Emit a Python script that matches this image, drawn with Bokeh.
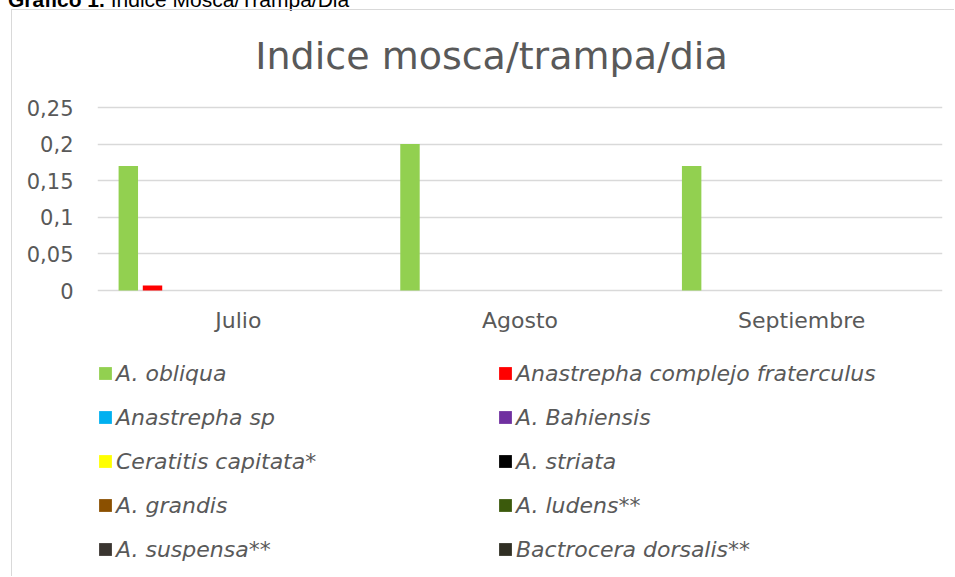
from bokeh.plotting import figure
from bokeh.models import (FactorRange, FixedTicker, Legend, LegendItem, Div, Label)
from bokeh.transform import dodge
from bokeh.layouts import column
from bokeh.embed import file_html
from bokeh.resources import INLINE

# ---------------- data ----------------
months = ["Julio", "Agosto", "Septiembre"]
series_names = ["A. obliqua", "Anastrepha complejo fraterculus", "Anastrepha sp",
                "A. Bahiensis", "Ceratitis capitata*", "A. striata", "A. grandis",
                "A. ludens**", "A. suspensa**", "Bactrocera dorsalis**"]
obliqua = [0.17, 0.20, 0.17]
fraterculus = [0.007, 0.0, 0.0]
anastrepha_sp = [0.0, 0.0, 0.0]
bahiensis = [0.0, 0.0, 0.0]
capitata = [0.0, 0.0, 0.0]
striata = [0.0, 0.0, 0.0]
grandis = [0.0, 0.0, 0.0]
ludens = [0.0, 0.0, 0.0]
suspensa = [0.0, 0.0, 0.0]
dorsalis = [0.0, 0.0, 0.0]
series_values = [obliqua, fraterculus, anastrepha_sp, bahiensis, capitata,
                 striata, grandis, ludens, suspensa, dorsalis]
colors = ["#92D050", "#FF0000", "#00B0F0", "#7030A0", "#FFFF00", "#000000",
          "#8B5000", "#3B5A0C", "#3A3530", "#302F24"]
tick_values = [0, 0.05, 0.1, 0.15, 0.2, 0.25]
tick_labels = ["0", "0,05", "0,1", "0,15", "0,2", "0,25"]
chart_title = "Indice mosca/trampa/dia"
caption_bold = "Gráfico 1."
caption_rest = " Indice Mosca/Trampa/Dia"

TXT = "#595959"
FONT = "DejaVu Sans"

data = {"month": months}
for i, v in enumerate(series_values):
    data[f"s{i}"] = v

# frame covers the whole chart box so that title and legend are not clipped
p = figure(x_range=FactorRange(*months, range_padding=0, factor_padding=0),
           y_range=(-0.3852, 0.3552), width=943, height=567,
           output_backend="svg", toolbar_location=None,
           min_border_left=85, min_border_right=13,
           min_border_top=20, min_border_bottom=5,
           margin=(0, 0, 0, 11),
           styles={"border-left": "1px solid #d9d9d9", "border-top": "1px solid #d9d9d9"})
p.outline_line_color = None
p.background_fill_color = "white"
p.border_fill_color = "white"

renderers = []
for i, name in enumerate(series_names):
    off = -0.3906 + i * 0.0859
    r = p.vbar(x=dodge("month", off, range=p.x_range), top=f"s{i}", width=0.069,
               source=data, fill_color=colors[i], line_color=None)
    renderers.append(r)

# axes
p.yaxis.ticker = FixedTicker(ticks=tick_values)
p.yaxis.major_label_overrides = {v: l for v, l in zip(tick_values, tick_labels)}
p.xaxis.fixed_location = 0
for ax in (p.xaxis[0], p.yaxis[0]):
    ax.axis_line_color = None
    ax.major_tick_line_color = None
    ax.minor_tick_line_color = None
    ax.major_tick_out = 0
    ax.major_tick_in = 0
    ax.major_label_text_color = TXT
    ax.major_label_text_font = FONT
p.yaxis.major_label_text_font_size = "21px"
p.xaxis.major_label_text_font_size = "22px"
p.yaxis.major_label_standoff = 24
p.xaxis.major_label_standoff = 17

p.xgrid.grid_line_color = None
p.ygrid.grid_line_color = "#d9d9d9"
p.ygrid.grid_line_width = 1.5

# title
p.add_layout(Label(x=394, y=517, x_units="screen", y_units="screen", text=chart_title,
                   text_align="center", text_baseline="middle", text_color=TXT,
                   text_font=FONT, text_font_size="38px"))

# legends (two columns)
def make_legend(idx, x, y):
    items = [LegendItem(label=series_names[i], renderers=[renderers[i]]) for i in idx]
    lg = Legend(items=items, location=(x, y), orientation="vertical",
                label_text_font=FONT, label_text_font_style="italic",
                label_text_font_size="22px", label_text_color=TXT,
                glyph_width=16, glyph_height=16, label_height=26, label_standoff=3,
                spacing=18, padding=0, margin=0,
                border_line_color=None, background_fill_alpha=0)
    p.add_layout(lg, "center")

make_legend([0, 2, 4, 6, 8], 0, 10)
make_legend([1, 3, 5, 7, 9], 400, 10)

caption = Div(text=f'<div style="font-family:\'Liberation Sans\',Arial;font-size:21px;color:#000;white-space:nowrap;line-height:22px;">'
                   f'<b>{caption_bold}</b>{caption_rest}</div>',
              width=420, height=20, margin=(-11, 0, 0, 8))

layout = column(caption, p, spacing=0)
open("out.html", "w").write(file_html(layout, INLINE))
